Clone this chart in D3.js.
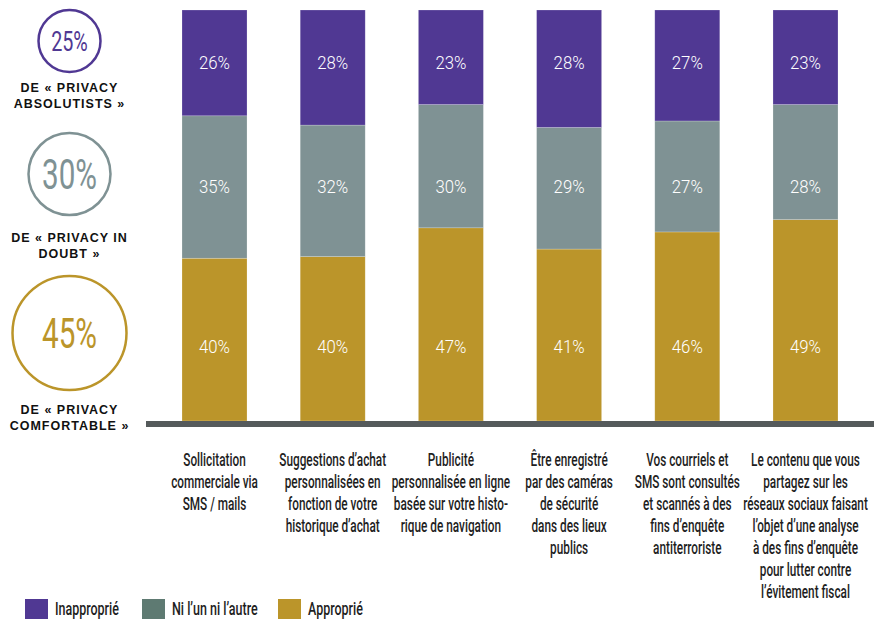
<!DOCTYPE html>
<html>
<head>
<meta charset="utf-8">
<script src="https://cdn.jsdelivr.net/npm/d3@7"></script>
<style>
  body { margin: 0; background: #fff; }
  text { font-family: Roboto, "Liberation Sans", sans-serif; }
</style>
</head>
<body>
<div id="chart"></div>
<script>
// data
var categories = [
  ["Sollicitation", "commerciale via", "SMS / mails"],
  ["Suggestions d\u2019achat", "personnalisées en", "fonction de votre", "historique d\u2019achat"],
  ["Publicité", "personnalisée en ligne", "basée sur votre histo-", "rique de navigation"],
  ["Être enregistré", "par des caméras", "de sécurité", "dans des lieux", "publics"],
  ["Vos courriels et", "SMS sont consultés", "et scannés à des", "fins d\u2019enquête", "antiterroriste"],
  ["Le contenu que vous", "partagez sur les", "réseaux sociaux faisant", "l\u2019objet d\u2019une analyse", "à des fins d\u2019enquête", "pour lutter contre", "l\u2019évitement fiscal"]
];
var inapproprie = [26, 28, 23, 28, 27, 23];
var niLunNiLautre = [35, 32, 30, 29, 27, 28];
var approprie = [40, 40, 47, 41, 46, 49];

var seriesNames = ["Inapproprié", "Ni l\u2019un ni l\u2019autre", "Approprié"];
var profileValues = ["25%", "30%", "45%"];
var profileLabels = [
  ["DE « PRIVACY", "ABSOLUTISTS »"],
  ["DE « PRIVACY IN", "DOUBT »"],
  ["DE « PRIVACY", "COMFORTABLE »"]
];

var barColors = ["#503893", "#7f9294", "#bb952a"];
var legendColors = ["#503893", "#5e7a72", "#bb952a"];

var width = 874, height = 620;

var svg = d3.select("#chart").append("svg")
    .attr("width", width)
    .attr("height", height);

// the original uses a condensed face; measure Roboto and squeeze it horizontally
function squeeze(str, size, weight, target) {
  var t = svg.append("text")
      .style("font-size", size + "px")
      .style("font-weight", weight)
      .text(str);
  var w = t.node().getComputedTextLength();
  t.remove();
  return target / w;
}

var kCat = squeeze("Suggestions d\u2019achat", 19, 500, 107);
var kVal = squeeze("26%", 17.5, 300, 31);
var kLeg = squeeze("Inapproprié", 17.5, 500, 64);
var kBig = squeeze("45%", 42, 400, 55);

var rows = categories.map(function(c, i) {
  return { key: i, a: inapproprie[i], b: niLunNiLautre[i], c: approprie[i] };
});

// Inapproprié on top, Approprié at the bottom
var stack = d3.stack()
    .keys(["c", "b", "a"])
    .offset(d3.stackOffsetExpand);
var stacked = stack(rows);
var colorByKey = { a: barColors[0], b: barColors[1], c: barColors[2] };
var labelRow = { a: 63, b: 187, c: 347 };

var x = d3.scaleBand()
    .domain(d3.range(categories.length))
    .range([182, 838])
    .paddingInner(0.45)
    .paddingOuter(0);

var y = d3.scaleLinear()
    .domain([0, 1])
    .range([421, 10]);

var layers = svg.selectAll(".layer")
    .data(stacked)
    .enter().append("g")
    .attr("class", "layer");

layers.selectAll("rect")
    .data(function(d) { return d; })
    .enter().append("rect")
    .attr("x", function(d, i) { return x(i); })
    .attr("y", function(d) { return y(d[1]); })
    .attr("width", x.bandwidth())
    .attr("height", function(d) { return y(d[0]) - y(d[1]); })
    .style("fill", function() { return colorByKey[d3.select(this.parentNode).datum().key]; })
    .style("stroke", "rgba(255,255,255,0.35)")
    .style("stroke-width", 0.6);

layers.selectAll(".val")
    .data(function(d) {
      var key = d.key;
      return d.map(function(p, i) { return { i: i, v: p.data[key], key: key }; });
    })
    .enter().append("g")
    .attr("class", "val")
    .attr("transform", function(d) {
      return "translate(" + (x(d.i) + x.bandwidth() / 2) + "," + labelRow[d.key] + ") scale(" + kVal + ",1)";
    })
    .append("text")
    .attr("dy", "0.36em")
    .attr("text-anchor", "middle")
    .style("fill", "#fff")
    .style("font-size", "17.5px")
    .style("font-weight", 300)
    .text(function(d) { return d.v + "%"; });

// baseline
svg.append("rect")
    .attr("x", 146)
    .attr("y", 421)
    .attr("width", width - 146)
    .attr("height", 6)
    .style("fill", "#555a5b");

// category labels
var catLabels = svg.selectAll(".cat")
    .data(categories)
    .enter().append("g")
    .attr("class", "cat")
    .attr("transform", function(d, i) {
      return "translate(" + (x(i) + x.bandwidth() / 2) + ",0) scale(" + kCat + ",1)";
    })
    .append("text")
    .attr("text-anchor", "middle")
    .style("font-size", "19px")
    .style("font-weight", 500)
    .style("fill", "#1e1e1e");

catLabels.selectAll("tspan")
    .data(function(d) { return d; })
    .enter().append("tspan")
    .attr("x", 0)
    .attr("y", function(d, j) { return 466 + j * 22; })
    .text(function(d) { return d; });

// profile circles on the left
var circles = [
  { cy: 41, r: 31, size: 28, ly: 92 },
  { cy: 174, r: 41, size: 42, ly: 242 },
  { cy: 333, r: 57, size: 42, ly: 414 }
];

var prof = svg.selectAll(".prof")
    .data(circles)
    .enter().append("g")
    .attr("class", "prof");

prof.append("circle")
    .attr("cx", 69.5)
    .attr("cy", function(d) { return d.cy; })
    .attr("r", function(d) { return d.r; })
    .style("fill", "none")
    .style("stroke", function(d, i) { return barColors[i]; })
    .style("stroke-width", 2.5);

prof.append("g")
    .attr("transform", function(d) { return "translate(69.5," + d.cy + ") scale(" + kBig + ",1)"; })
    .append("text")
    .attr("dy", "0.36em")
    .attr("text-anchor", "middle")
    .style("font-size", function(d) { return d.size + "px"; })
    .style("font-weight", 400)
    .style("fill", function(d, i) { return barColors[i]; })
    .text(function(d, i) { return profileValues[i]; });

prof.append("text")
    .attr("text-anchor", "middle")
    .style("font-family", "'Liberation Sans', sans-serif")
    .style("font-weight", "bold")
    .style("font-size", "12.5px")
    .style("letter-spacing", "1px")
    .style("fill", "#111")
    .each(function(d, i) {
      var t = d3.select(this);
      profileLabels[i].forEach(function(line, j) {
        t.append("tspan")
          .attr("x", 69.5)
          .attr("y", d.ly + j * 15.5)
          .text(line);
      });
    });

// legend
var legendX = [25, 142, 278];
var legend = svg.selectAll(".legend")
    .data(seriesNames)
    .enter().append("g")
    .attr("class", "legend")
    .attr("transform", function(d, i) { return "translate(" + legendX[i] + ",599)"; });

legend.append("rect")
    .attr("width", 23)
    .attr("height", 20)
    .style("fill", function(d, i) { return legendColors[i]; });

legend.append("g")
    .attr("transform", "translate(30,10) scale(" + kLeg + ",1)")
    .append("text")
    .attr("dy", "0.36em")
    .style("font-size", "17.5px")
    .style("font-weight", 500)
    .style("fill", "#1e1e1e")
    .text(function(d) { return d; });
</script>
</body>
</html>
